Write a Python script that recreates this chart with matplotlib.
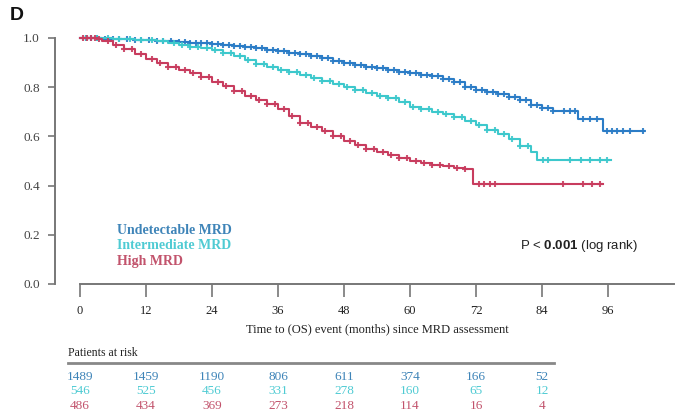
import numpy as np
import matplotlib
matplotlib.use("Agg")
import matplotlib.pyplot as plt
from matplotlib.transforms import blended_transform_factory

plt.rcParams["mathtext.fontset"] = "custom"
plt.rcParams["mathtext.rm"] = "Liberation Sans"
plt.rcParams["mathtext.bf"] = "Liberation Sans:bold"

# Kaplan-Meier step curves (months, survival) per MRD group
blue_t = [0, 2, 4, 6, 8, 10, 12, 14, 16, 18, 20, 22, 24, 26, 28, 30, 32, 34, 36, 38,
          40, 42, 44, 46, 48, 50, 52, 54, 56, 58, 60, 62, 64, 66, 68, 70, 72, 74, 76,
          78, 80, 82, 84, 86, 90.5, 95, 102.5]
blue_s = [1.0, 0.999, 0.997, 0.995, 0.994, 0.992, 0.99, 0.988, 0.986, 0.984, 0.981,
          0.978, 0.975, 0.971, 0.967, 0.963, 0.958, 0.952, 0.946, 0.94, 0.933, 0.926,
          0.918, 0.908, 0.899, 0.891, 0.884, 0.877, 0.87, 0.863, 0.857, 0.851, 0.845,
          0.835, 0.822, 0.802, 0.787, 0.78, 0.771, 0.762, 0.748, 0.728, 0.716, 0.705,
          0.67, 0.62, 0.62]

cyan_t = [0, 2, 4, 6, 8, 10, 12, 14, 16, 18, 20, 22, 24, 26, 28, 30, 32, 34, 36, 38,
          40, 42, 44, 46, 48, 50, 52, 54, 56, 58, 60, 62, 64, 66, 68, 70, 72, 74, 76,
          78, 80, 82, 83, 96.5]
cyan_s = [1.0, 1.0, 0.998, 0.997, 0.995, 0.993, 0.99, 0.986, 0.98, 0.973, 0.965,
          0.958, 0.95, 0.938, 0.925, 0.91, 0.895, 0.882, 0.87, 0.86, 0.85, 0.838,
          0.825, 0.812, 0.80, 0.788, 0.776, 0.765, 0.755, 0.738, 0.72, 0.71, 0.70,
          0.69, 0.68, 0.662, 0.645, 0.628, 0.61, 0.59, 0.562, 0.535, 0.505, 0.505]

red_t = [0, 2, 3, 4, 6, 8, 10, 12, 14, 16, 18, 20, 22, 24, 26, 28, 30, 32, 34, 36,
         38, 40, 42, 44, 46, 48, 50, 52, 54, 56, 58, 60, 62, 64, 66, 68, 70, 71.5, 95]
red_s = [1.0, 1.0, 0.995, 0.988, 0.972, 0.955, 0.935, 0.915, 0.897, 0.882, 0.87,
         0.858, 0.842, 0.822, 0.805, 0.785, 0.765, 0.75, 0.733, 0.71, 0.683, 0.656,
         0.637, 0.62, 0.60, 0.58, 0.565, 0.55, 0.537, 0.525, 0.512, 0.50, 0.49,
         0.482, 0.478, 0.472, 0.468, 0.405, 0.405]

# censored observations (months)
blue_cens = [1, 2, 3, 4.5, 6, 7, 8.5, 10, 11, 12.5, 14, 15, 16.5, 18, 19, 20, 21,
             22, 23, 24, 25, 26, 27, 28, 29, 30, 31, 32, 33, 34, 35, 36, 37, 38, 39,
             40, 41, 42, 43, 44, 45, 46, 47, 48, 49, 50, 51, 52, 53, 54, 55, 56, 57,
             58, 59, 60, 61, 62, 63, 64, 65, 66, 67, 68, 69, 70, 71, 72, 73, 74, 75,
             76, 77, 78, 79, 80, 81, 82, 83, 84, 85, 86, 88, 89, 90, 91.5, 92.7, 94,
             95.8, 96.7, 97.6, 98.7, 100, 102.4]
cyan_cens = [1, 3, 5, 7, 9, 11, 13, 15, 17, 18.5, 20, 21.5, 23, 24.5, 26, 27.5, 29,
             30.5, 32, 33.5, 35, 36.5, 38, 39.5, 41, 42.5, 44, 45.5, 47, 48.5, 50,
             51.5, 53, 54.5, 56, 57.5, 59, 60.5, 62, 63.5, 65, 66.5, 68, 69.5, 71,
             72.5, 74, 75.5, 77, 78.5, 80, 81.5, 84.2, 85, 89, 91, 92.7, 94.5, 95.8]
red_cens = [0.5, 1.2, 2, 2.8, 3.5, 5, 6.5, 8, 9.5, 11, 13, 14.5, 16, 17.5, 19, 20.5,
            22, 23.5, 25, 26.5, 28, 29.5, 31, 32.5, 34, 35.5, 37, 38.5, 40, 41.5, 43,
            44.5, 46, 47.5, 49, 50.5, 52, 53.5, 55, 56.5, 58, 59.5, 61, 62.5, 64,
            65.5, 67, 68.5, 70, 72.5, 73.5, 74.5, 75.5, 87.8, 91.5, 93, 94.5]

groups = ["Undetectable MRD", "Intermediate MRD", "High MRD"]
line_colors = ["#2b7cc6", "#3dc8cc", "#c83c5e"]
text_colors = ["#3e84b8", "#4fcbd3", "#c2536c"]

risk_months = [0, 12, 24, 36, 48, 60, 72, 84]
risk_blue = [1489, 1459, 1190, 806, 611, 374, 166, 52]
risk_cyan = [546, 525, 456, 331, 278, 160, 65, 12]
risk_red = [486, 434, 369, 273, 218, 114, 16, 4]

W, H = 676, 418
fig = plt.figure(figsize=(W / 100, H / 100), dpi=100)
ax = fig.add_axes([80 / W, 1 - 284 / H, 594 / W, 246 / H])

curves = [(blue_t, blue_s, blue_cens), (cyan_t, cyan_s, cyan_cens), (red_t, red_s, red_cens)]
for (t, s, cens), col in zip(curves, line_colors):
    ax.step(t, s, where="post", color=col, lw=1.5, clip_on=False)
    idx = np.searchsorted(t, cens, side="right") - 1
    ax.plot(cens, np.asarray(s)[idx], ls="none", marker="+", ms=5, mew=1.5,
            color=col, alpha=0.9, clip_on=False)

ax.set_xlim(0, 108)
ax.set_ylim(0, 1.0)
ax.set_xticks([0, 12, 24, 36, 48, 60, 72, 84, 96])
ax.set_yticks([0.0, 0.2, 0.4, 0.6, 0.8, 1.0])
ax.set_yticklabels(["0.0", "0.2", "0.4", "0.6", "0.8", "1.0"])

for side in ["top", "right"]:
    ax.spines[side].set_visible(False)
ax.spines["left"].set_position(("outward", 18))
for side in ["left", "bottom"]:
    ax.spines[side].set_color("#777777")
    ax.spines[side].set_linewidth(1.4)
ax.tick_params(axis="y", length=5, width=1.2, color="#777777", pad=6,
               labelsize=9.5, labelcolor="#444444")
ax.tick_params(axis="x", length=9, width=1.2, color="#777777", pad=6,
               labelsize=9, labelcolor="#222222")
for lab in ax.get_xticklabels() + ax.get_yticklabels():
    lab.set_family("Liberation Serif")

ax.set_xlabel("Time to (OS) event (months) since MRD assessment",
              family="Liberation Serif", fontsize=9, color="#222222", labelpad=5)

# group labels
for i, (g, c) in enumerate(zip(groups, text_colors)):
    fig.text(117 / W, 1 - (230 + 15.5 * i) / H, g, family="Liberation Serif",
             weight="bold", fontsize=10, color=c, va="center")

ax.text(0.74, 0.155, r"P < $\mathbf{0.001}$ (log rank)", transform=ax.transAxes,
        family="Liberation Sans", fontsize=9.5, color="#222222", va="center")

fig.text(10 / W, 1 - 15 / H, "D", family="Liberation Sans", weight="bold",
         fontsize=14, color="#111111", va="center")

# patients at risk table
trans = blended_transform_factory(ax.transData, fig.transFigure)
fig.text(68 / W, 1 - 353 / H, "Patients at risk", family="Liberation Serif",
         fontsize=8.5, color="#222222", va="center")
fig.add_artist(plt.Line2D([68 / W, 554 / W], [1 - 363 / H, 1 - 363 / H],
                          color="#888888", lw=2))
for row, (vals, c) in enumerate(zip([risk_blue, risk_cyan, risk_red], text_colors)):
    for m, v in zip(risk_months, vals):
        ax.text(m, 1 - (377 + 14.5 * row) / H, str(v), transform=trans,
                family="Liberation Serif", fontsize=9.5, color=c,
                ha="center", va="center", clip_on=False)

fig.savefig("out.png", dpi=100)
